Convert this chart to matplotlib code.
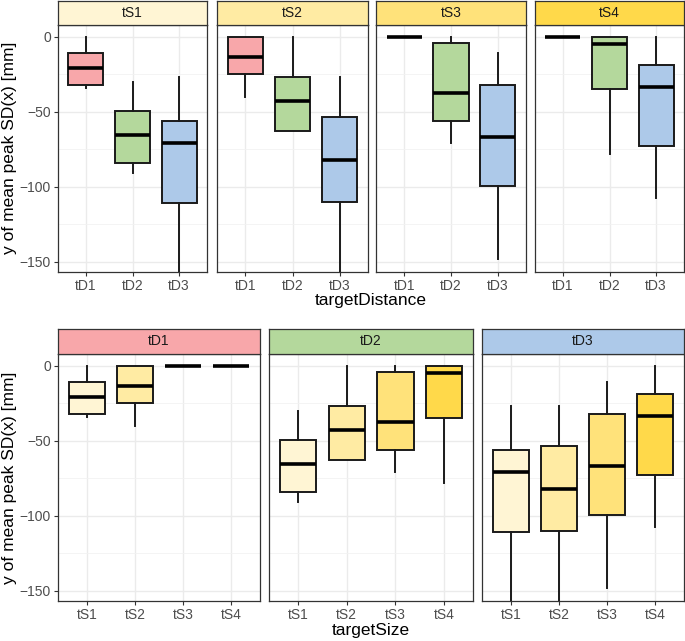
import numpy as np
import matplotlib
matplotlib.use("Agg")
import matplotlib.pyplot as plt

plt.rcParams['font.family'] = ['Liberation Sans', 'DejaVu Sans']

sizes = ['tS1', 'tS2', 'tS3', 'tS4']
dists = ['tD1', 'tD2', 'tD3']

# box stats, rows = target size, cols = target distance
whishi = [[0.0, -30.0, -26.7],
          [0.0, 0.0, -26.7],
          [0.0, 0.0, -11.1],
          [0.0, 0.0, 0.0]]
q3 = [[-11.1, -49.3, -56.2],
      [-0.4, -26.7, -53.3],
      [0.0, -4.4, -32.2],
      [0.0, 0.0, -18.7]]
med = [[-21.1, -65.6, -71.1],
       [-13.8, -42.7, -82.2],
       [0.0, -37.8, -67.1],
       [0.0, -5.1, -33.6]]
q1 = [[-32.2, -84.0, -111.1],
      [-24.9, -62.9, -110.2],
      [0.0, -56.2, -99.6],
      [0.0, -34.7, -72.7]]
whislo = [[-34.4, -90.7, -170.0],
          [-40.4, -62.9, -170.0],
          [0.0, -70.7, -148.4],
          [0.0, -78.2, -107.8]]

dist_colors = ['#F8A7AA', '#B4D89C', '#ADC9E9']
size_colors = ['#FFF5D4', '#FFEBA3', '#FFE27A', '#FFD94A']

W, H = 685, 641
fig = plt.figure(figsize=(W / 100, H / 100), dpi=100)


def px_axes(x0, x1, ytop, ybot):
    return fig.add_axes([x0 / W, 1 - ybot / H, (x1 - x0) / W, (ybot - ytop) / H])


def stat(i, j):
    return dict(med=med[i][j], q1=q1[i][j], q3=q3[i][j],
                whislo=whislo[i][j], whishi=whishi[i][j], fliers=[])


def draw_panel(ax, stats, labels, colors, show_y):
    n = len(stats)
    bp = ax.bxp(stats, positions=np.arange(1, n + 1), widths=0.75,
                showcaps=False, patch_artist=True,
                boxprops=dict(linewidth=1.4, edgecolor='#1a1a1a'),
                whiskerprops=dict(linewidth=1.4, color='#1a1a1a'),
                medianprops=dict(linewidth=2.6, color='black', solid_capstyle='butt'))
    for patch, c in zip(bp['boxes'], colors):
        patch.set_facecolor(c)
    ax.set_xlim(0.4, n + 0.6)
    ax.set_ylim(-157, 7.8)
    ax.set_xticks(np.arange(1, n + 1))
    ax.set_xticklabels(labels)
    ax.set_yticks([0, -50, -100, -150])
    ax.set_yticks([-25, -75, -125], minor=True)
    ax.grid(True, which='major', color='#EBEBEB', linewidth=1.0)
    ax.grid(True, which='minor', axis='y', color='#F2F2F2', linewidth=0.6)
    ax.set_axisbelow(True)
    ax.tick_params(which='major', length=3, width=0.8, color='#333333',
                   labelsize=10, labelcolor='#4D4D4D', pad=2)
    ax.tick_params(which='minor', length=0)
    if not show_y:
        ax.tick_params(axis='y', length=0, labelleft=False)
    for s in ax.spines.values():
        s.set_color('#333333')
        s.set_linewidth(0.9)


def draw_strip(x0, x1, ytop, ybot, text, color):
    sa = px_axes(x0, x1, ytop, ybot)
    sa.set_facecolor(color)
    sa.set_xticks([])
    sa.set_yticks([])
    for s in sa.spines.values():
        s.set_color('#333333')
        s.set_linewidth(0.9)
    sa.text(0.5, 0.5, text, ha='center', va='center', fontsize=10,
            color='#1A1A1A', transform=sa.transAxes)


# top row: facets by target size
top_x = [(58, 207), (217, 368), (376, 526), (535, 684)]
for i, (x0, x1) in enumerate(top_x):
    ax = px_axes(x0, x1, 25, 272)
    draw_panel(ax, [stat(i, j) for j in range(3)], dists, dist_colors, i == 0)
    draw_strip(x0, x1, 1, 25, sizes[i], size_colors[i])

# bottom row: facets by target distance
bot_x = [(58, 260), (269, 473), (482, 684)]
for j, (x0, x1) in enumerate(bot_x):
    ax = px_axes(x0, x1, 354, 601)
    draw_panel(ax, [stat(i, j) for i in range(4)], sizes, size_colors, j == 0)
    draw_strip(x0, x1, 329, 354, dists[j], dist_colors[j])

ylab = 'y of mean peak SD(x) [mm]'
fig.text(10 / W, 1 - 148 / H, ylab, rotation=90, ha='center', va='center', fontsize=12.5)
fig.text(10 / W, 1 - 478 / H, ylab, rotation=90, ha='center', va='center', fontsize=12.5)
fig.text((58 + 684) / 2 / W, 1 - 300 / H, 'targetDistance', ha='center', va='center', fontsize=12.5)
fig.text((58 + 684) / 2 / W, 1 - 631 / H, 'targetSize', ha='center', va='center', fontsize=12.5)

fig.savefig('out.png', dpi=100)
